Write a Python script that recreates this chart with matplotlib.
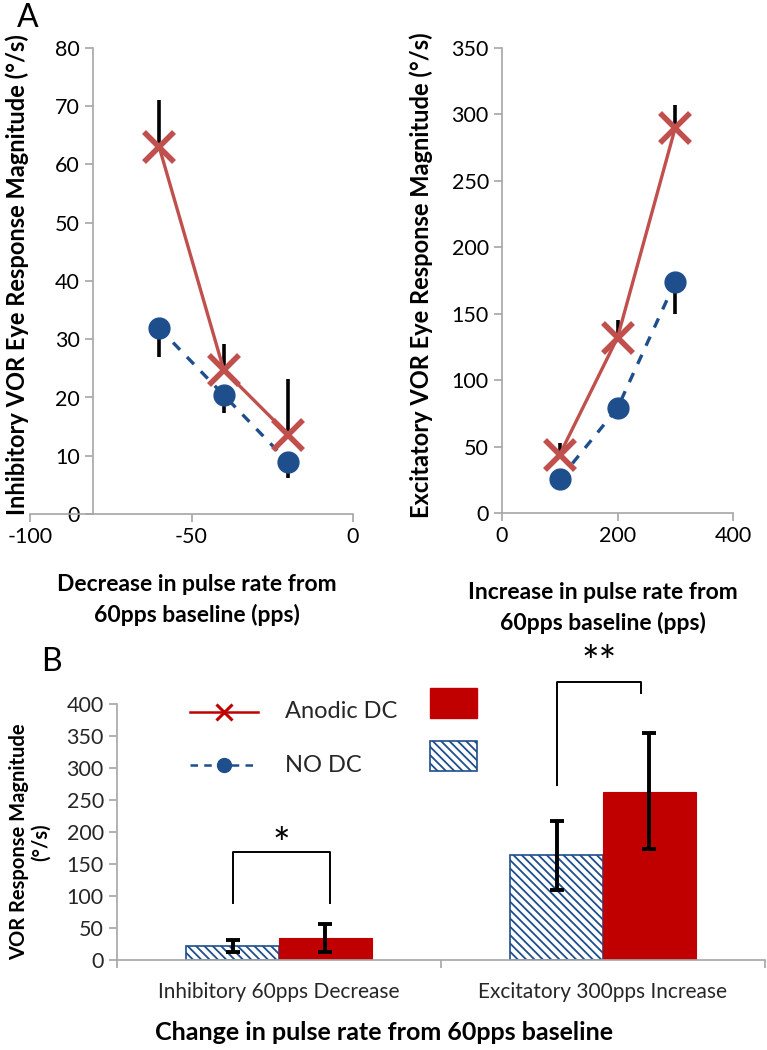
import matplotlib
matplotlib.use("Agg")
import matplotlib.pyplot as plt
from matplotlib.lines import Line2D
from matplotlib.patches import Rectangle

plt.rcParams['font.family'] = ['Lato', 'DejaVu Sans']
plt.rcParams['hatch.linewidth'] = 1.3
plt.rcParams['axes.unicode_minus'] = False

# ---------------- data ----------------
inh_x = [-60, -40, -20]
inh_anodic = [63, 24.7, 13.6]
inh_anodic_err_up = [8, 4.5, 9.5]
inh_nodc = [31.9, 20.4, 8.9]
inh_nodc_err_down = [5, 3, 2.7]

exc_x = [100, 200, 300]
exc_anodic = [44, 132, 290]
exc_anodic_err_up = [9, 13, 17]
exc_nodc = [25.6, 79, 174]
exc_nodc_err_down = [3, 4, 24]

bar_categories = ['Inhibitory 60pps Decrease', 'Excitatory 300pps Increase']
bar_nodc = [22, 164]
bar_nodc_lo = [12, 109]
bar_nodc_hi = [31, 217]
bar_anodic = [35, 263]
bar_anodic_lo = [13, 173]
bar_anodic_hi = [57, 354]

RED_L = '#C0504D'
RED_B = '#C00000'
BLUE = '#1F4E8C'
AXC = '#A6A6A6'
TXT = '#262626'
TICK_FS = 15.5

W, H = 767, 1050
fig = plt.figure(figsize=(W / 100, H / 100), dpi=100)


def px_axes(x0, x1, ytop, ybot):
    return fig.add_axes([x0 / W, 1 - ybot / H, (x1 - x0) / W, (ybot - ytop) / H])


def style(ax):
    for s in ['top', 'right']:
        ax.spines[s].set_visible(False)
    for s in ['left', 'bottom']:
        ax.spines[s].set_color(AXC)
        ax.spines[s].set_linewidth(1.2)
    ax.tick_params(colors=AXC, labelcolor='black', width=1.2, length=6, labelsize=TICK_FS)


# ---------------- Panel A left ----------------
ax1 = px_axes(30, 353, 48, 514)
style(ax1)
ax1.set_xlim(-100, 0)
ax1.set_ylim(0, 80)
ax1.spines['left'].set_position(('data', -80.5))
ax1.set_xticks([-100, -50, 0])
ax1.set_yticks(range(0, 81, 10))
ax1.errorbar(inh_x, inh_anodic, yerr=[[0] * 3, inh_anodic_err_up], fmt='none',
             ecolor='black', elinewidth=2.6, capsize=0, zorder=2)
ax1.errorbar(inh_x, inh_nodc, yerr=[inh_nodc_err_down, [0] * 3], fmt='none',
             ecolor='black', elinewidth=2.6, capsize=0, zorder=2)
ax1.plot(inh_x, inh_nodc, color=BLUE, ls=(0, (3, 3)), lw=2.4, marker='o', ms=15, zorder=3)
ax1.plot(inh_x, inh_anodic, color=RED_L, lw=2.4, marker='x', ms=21, mew=4, zorder=4)
fig.text(197 / W, 1 - 600 / H, 'Decrease in pulse rate from\n60pps baseline (pps)', fontsize=16.5,
         fontweight='bold', ha='center', va='center', linespacing=1.45)
fig.text(17 / W, 1 - 275 / H, 'Inhibitory VOR Eye Response Magnitude (°/s)', rotation=90,
         fontsize=17, fontweight='bold', ha='center', va='center')

# ---------------- Panel A right ----------------
ax2 = px_axes(502, 733, 48, 513)
style(ax2)
ax2.set_xlim(0, 400)
ax2.set_ylim(0, 350)
ax2.set_xticks([0, 200, 400])
ax2.set_yticks(range(0, 351, 50))
ax2.errorbar(exc_x, exc_anodic, yerr=[[0] * 3, exc_anodic_err_up], fmt='none',
             ecolor='black', elinewidth=2.6, capsize=0, zorder=2)
ax2.errorbar(exc_x, exc_nodc, yerr=[exc_nodc_err_down, [0] * 3], fmt='none',
             ecolor='black', elinewidth=2.6, capsize=0, zorder=2)
ax2.plot(exc_x, exc_nodc, color=BLUE, ls=(0, (3, 3)), lw=2.4, marker='o', ms=15, zorder=3)
ax2.plot(exc_x, exc_anodic, color=RED_L, lw=2.4, marker='x', ms=21, mew=4, zorder=4)
fig.text(603 / W, 1 - 608 / H, 'Increase in pulse rate from\n60pps baseline (pps)', fontsize=16.5,
         fontweight='bold', ha='center', va='center', linespacing=1.45)
fig.text(421 / W, 1 - 275 / H, 'Excitatory VOR Eye Response Magnitude (°/s)', rotation=90,
         fontsize=17, fontweight='bold', ha='center', va='center')

fig.text(28 / W, 1 - 18 / H, 'A', fontsize=23, ha='center', va='center')
fig.text(51 / W, 1 - 662 / H, 'B', fontsize=23, ha='center', va='center')

# ---------------- Panel B ----------------
ax3 = px_axes(117, 765, 704, 960)
style(ax3)
ax3.set_xlim(0, 2)
ax3.set_ylim(0, 400)
ax3.set_yticks(range(0, 401, 50))
ax3.set_xticks([0, 1, 2])
ax3.set_xticklabels([])
ax3.set_xticks([0.5, 1.5], minor=True)
ax3.set_xticklabels(bar_categories, minor=True)
ax3.tick_params(axis='x', which='minor', length=0, pad=16, labelsize=15, labelcolor=TXT)
ax3.tick_params(axis='y', labelcolor=TXT)
ax3.spines['bottom'].set_zorder(5)

centers = [0.5, 1.5]
bw = 0.287
xb = [c - bw / 2 for c in centers]
xr = [c + bw / 2 for c in centers]
ax3.bar(xb, bar_nodc, width=bw, color='white', edgecolor=BLUE, hatch='\\\\\\\\', lw=1.2, zorder=2)
ax3.bar(xr, bar_anodic, width=bw, color=RED_B, edgecolor=RED_B, lw=0.8, zorder=2)
ax3.errorbar(xb, bar_nodc,
             yerr=[[v - l for v, l in zip(bar_nodc, bar_nodc_lo)],
                   [h - v for v, h in zip(bar_nodc, bar_nodc_hi)]],
             fmt='none', ecolor='black', elinewidth=2.8, capsize=5, capthick=2.8, zorder=3)
ax3.errorbar(xr, bar_anodic,
             yerr=[[v - l for v, l in zip(bar_anodic, bar_anodic_lo)],
                   [h - v for v, h in zip(bar_anodic, bar_anodic_hi)]],
             fmt='none', ecolor='black', elinewidth=2.8, capsize=5, capthick=2.8, zorder=3)

# significance brackets
ax3.plot([xb[0], xb[0], xr[0] + 0.015, xr[0] + 0.015], [89, 168, 168, 89], color='black', lw=1.4,
         clip_on=False)
ax3.text(xb[0] + (xr[0] + 0.015 - xb[0]) / 2, 178, '*', fontsize=30, ha='center', va='center')
ax3.plot([xb[1], xb[1], xr[1] - 0.025, xr[1] - 0.025], [273, 434, 434, 417], color='black', lw=1.4,
         clip_on=False)
ax3.text(xb[1] + (xr[1] - 0.025 - xb[1]) / 2, 462, '**', fontsize=30, ha='center', va='center')

fig.text(384 / W, 1 - 1033 / H, 'Change in pulse rate from 60pps baseline', fontsize=18,
         fontweight='bold', ha='center', va='center')
fig.text(30 / W, 1 - 842 / H, 'VOR Response Magnitude\n(°/s)', rotation=90, fontsize=14.5,
         fontweight='bold', ha='center', va='center', linespacing=1.15)

# legend (drawn in figure pixels)
def fx(x):
    return x / W


def fy(y):
    return 1 - y / H


fig.add_artist(Line2D([fx(190), fx(258)], [fy(712), fy(712)], color=RED_B, lw=1.8))
fig.add_artist(Line2D([fx(224)], [fy(712)], color=RED_B, marker='x', ms=11, mew=2.2))
fig.add_artist(Line2D([fx(190), fx(258)], [fy(765), fy(765)], color=BLUE, lw=1.8,
                      ls=(0, (3, 2.5))))
fig.add_artist(Line2D([fx(224)], [fy(765)], color=BLUE, marker='o', ms=10))
fig.text(fx(285), fy(712), 'Anodic DC', fontsize=17, va='center', ha='left', color=TXT)
fig.text(fx(285), fy(765), 'NO DC', fontsize=17, va='center', ha='left', color=TXT)
fig.add_artist(Rectangle((fx(430), fy(718)), fx(47), 30 / H, facecolor=RED_B, edgecolor=RED_B,
                         transform=fig.transFigure))
fig.add_artist(Rectangle((fx(430), fy(771)), fx(47), 30 / H, facecolor='white', edgecolor=BLUE,
                         hatch='\\\\\\\\', lw=1.2, transform=fig.transFigure))

fig.savefig('out.png', dpi=100)
